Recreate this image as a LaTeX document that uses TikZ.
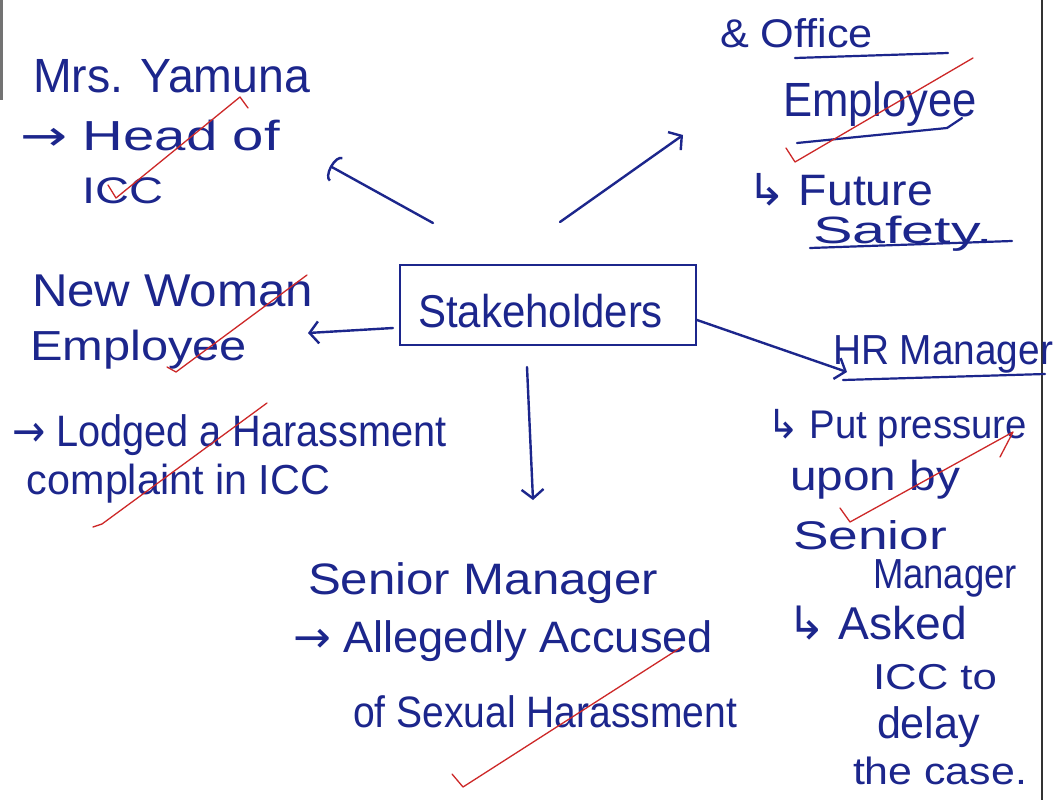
\documentclass[tikz,border=0pt]{standalone}
\usepackage{fontspec}
\usepackage{graphicx}
\setmainfont{Liberation Sans}
\newfontfamily\symf{DejaVu Sans}
\usetikzlibrary{arrows.meta}
\definecolor{ink}{RGB}{28,38,140}
\definecolor{redink}{RGB}{205,40,40}
\newcommand\hw[3][40]{\resizebox{#2pt}{\height}{\fontsize{#1}{#1}\selectfont #3}}
\tikzset{
  hand/.style={inner sep=0pt, outer sep=0pt, anchor=base west, text=ink},
  conn/.style={draw=ink, line width=2.4pt, line cap=round, -{Straight Barb[length=9pt,width=22pt,line width=2.4pt]}},
  arcconn/.style={draw=ink, line width=2.4pt, line cap=round, -{Arc Barb[length=7pt,width=28pt,line width=2.4pt]}},
  uline/.style={draw=ink, line width=2.2pt, line cap=round},
  tick/.style={draw=redink, line width=1.3pt, line cap=round, line join=round},
  stakebox/.style={draw=ink, line width=2.2pt, minimum width=296pt, minimum height=80pt, inner sep=0pt, text=ink}
}
\begin{document}
\begin{tikzpicture}[x=1pt,y=-1pt]
\useasboundingbox (0,0) rectangle (1059,800);
\fill[white] (0,0) rectangle (1059,800);
% page edges
\draw[black!80, line width=2pt] (1042,0) -- (1042,800);
\draw[black!55, line width=3pt] (1.5,0) -- (1.5,100);

% central node
\node[stakebox] (stake) at (548,305) {};
\node[hand] (staketxt) at (418,327) {\hw[46]{245}{Stakeholders}};

% Mrs. Yamuna
\node[hand] (y1) at (33,92) {\hw[48]{277}{Mrs. Yamuna}};
\node[hand] (y2) at (20,150) {\hw[42]{260}{{\symf →} Head of}};
\node[hand] (y3) at (82,203) {\hw[37]{81}{ICC}};

% Office Employee
\node[hand] (o1) at (720,48) {\hw[40]{153}{\& Office}};
\node[hand] (o2) at (783,116) {\hw[48]{194}{Employee}};
\node[hand] (o3) at (747,205) {\hw[44]{186}{{\symf ↳} Future}};
\node[hand] (o4) at (813,243) {\hw[38]{180}{Safety.}};
\draw[uline] (795,58) -- (948,53);
\draw[uline] (797,143) -- (947,128) -- (962,118);
\draw[uline] (810,248) -- (1012,241);

% New Woman Employee
\node[hand] (n1) at (32,306) {\hw[46]{281}{New Woman}};
\node[hand] (n2) at (30,360) {\hw[42]{217}{Employee}};
\node[hand] (n3) at (12,446) {\hw[44]{435}{{\symf →} Lodged a Harassment}};
\node[hand] (n4) at (27,494) {\hw[42]{303}{complaint in ICC}};

% Senior Manager
\node[hand] (s1) at (308,594) {\hw[44]{350}{Senior Manager}};
\node[hand] (s2) at (293,652) {\hw[44]{420}{{\symf →} Allegedly Accused}};
\node[hand] (s3) at (353,727) {\hw[44]{384}{of Sexual Harassment}};

% HR Manager
\node[hand] (h1) at (833,364) {\hw[42]{220}{HR Manager}};
\draw[uline] (843,380) -- (1045,374);
\node[hand] (h2) at (767,438) {\hw[40]{260}{{\symf ↳} Put pressure}};
\node[hand] (h3) at (790,490) {\hw[42]{170}{upon by}};
\node[hand] (h4) at (793,549) {\hw[40]{154}{Senior}};
\node[hand] (h5) at (873,588) {\hw[42]{144}{Manager}};
\node[hand] (h6) at (787,639) {\hw[46]{180}{{\symf ↳} Asked}};
\node[hand] (h7) at (873,689) {\hw[36]{124}{ICC to}};
\node[hand] (h8) at (877,738) {\hw[44]{103}{delay}};
\node[hand] (h9) at (853,784) {\hw[38]{174}{the case.}};

% connector end points
\coordinate (aY0) at (433,223); \coordinate (aY1) at (330,166);
\coordinate (aO0) at (560,222); \coordinate (aO1) at (683,135);
\coordinate (aN0) at (393,328); \coordinate (aN1) at (308,333);
\coordinate (aS0) at (527,367); \coordinate (aS1) at (533,500);
\coordinate (aH0) at (697,320); \coordinate (aH1) at (847,372);
\draw[arcconn] (aY0) -- (aY1);
\draw[conn] (aO0) -- (aO1);
\draw[conn] (aN0) -- (aN1);
\draw[conn] (aS0) -- (aS1);
\draw[conn] (aH0) -- (aH1);

% red ticks
\draw[tick] (108,185) -- (116,198) -- (240,97) -- (248,108);
\draw[tick] (786,148) -- (795,162) -- (973,58);
\draw[tick] (167,367) -- (176,372) -- (307,275);
\draw[tick] (93,527) -- (102,524) -- (267,403);
\draw[tick] (452,774) -- (463,787) -- (680,648);
\draw[tick] (840,508) -- (850,522) -- (1013,432) -- (1000,457);
\end{tikzpicture}
\end{document}
